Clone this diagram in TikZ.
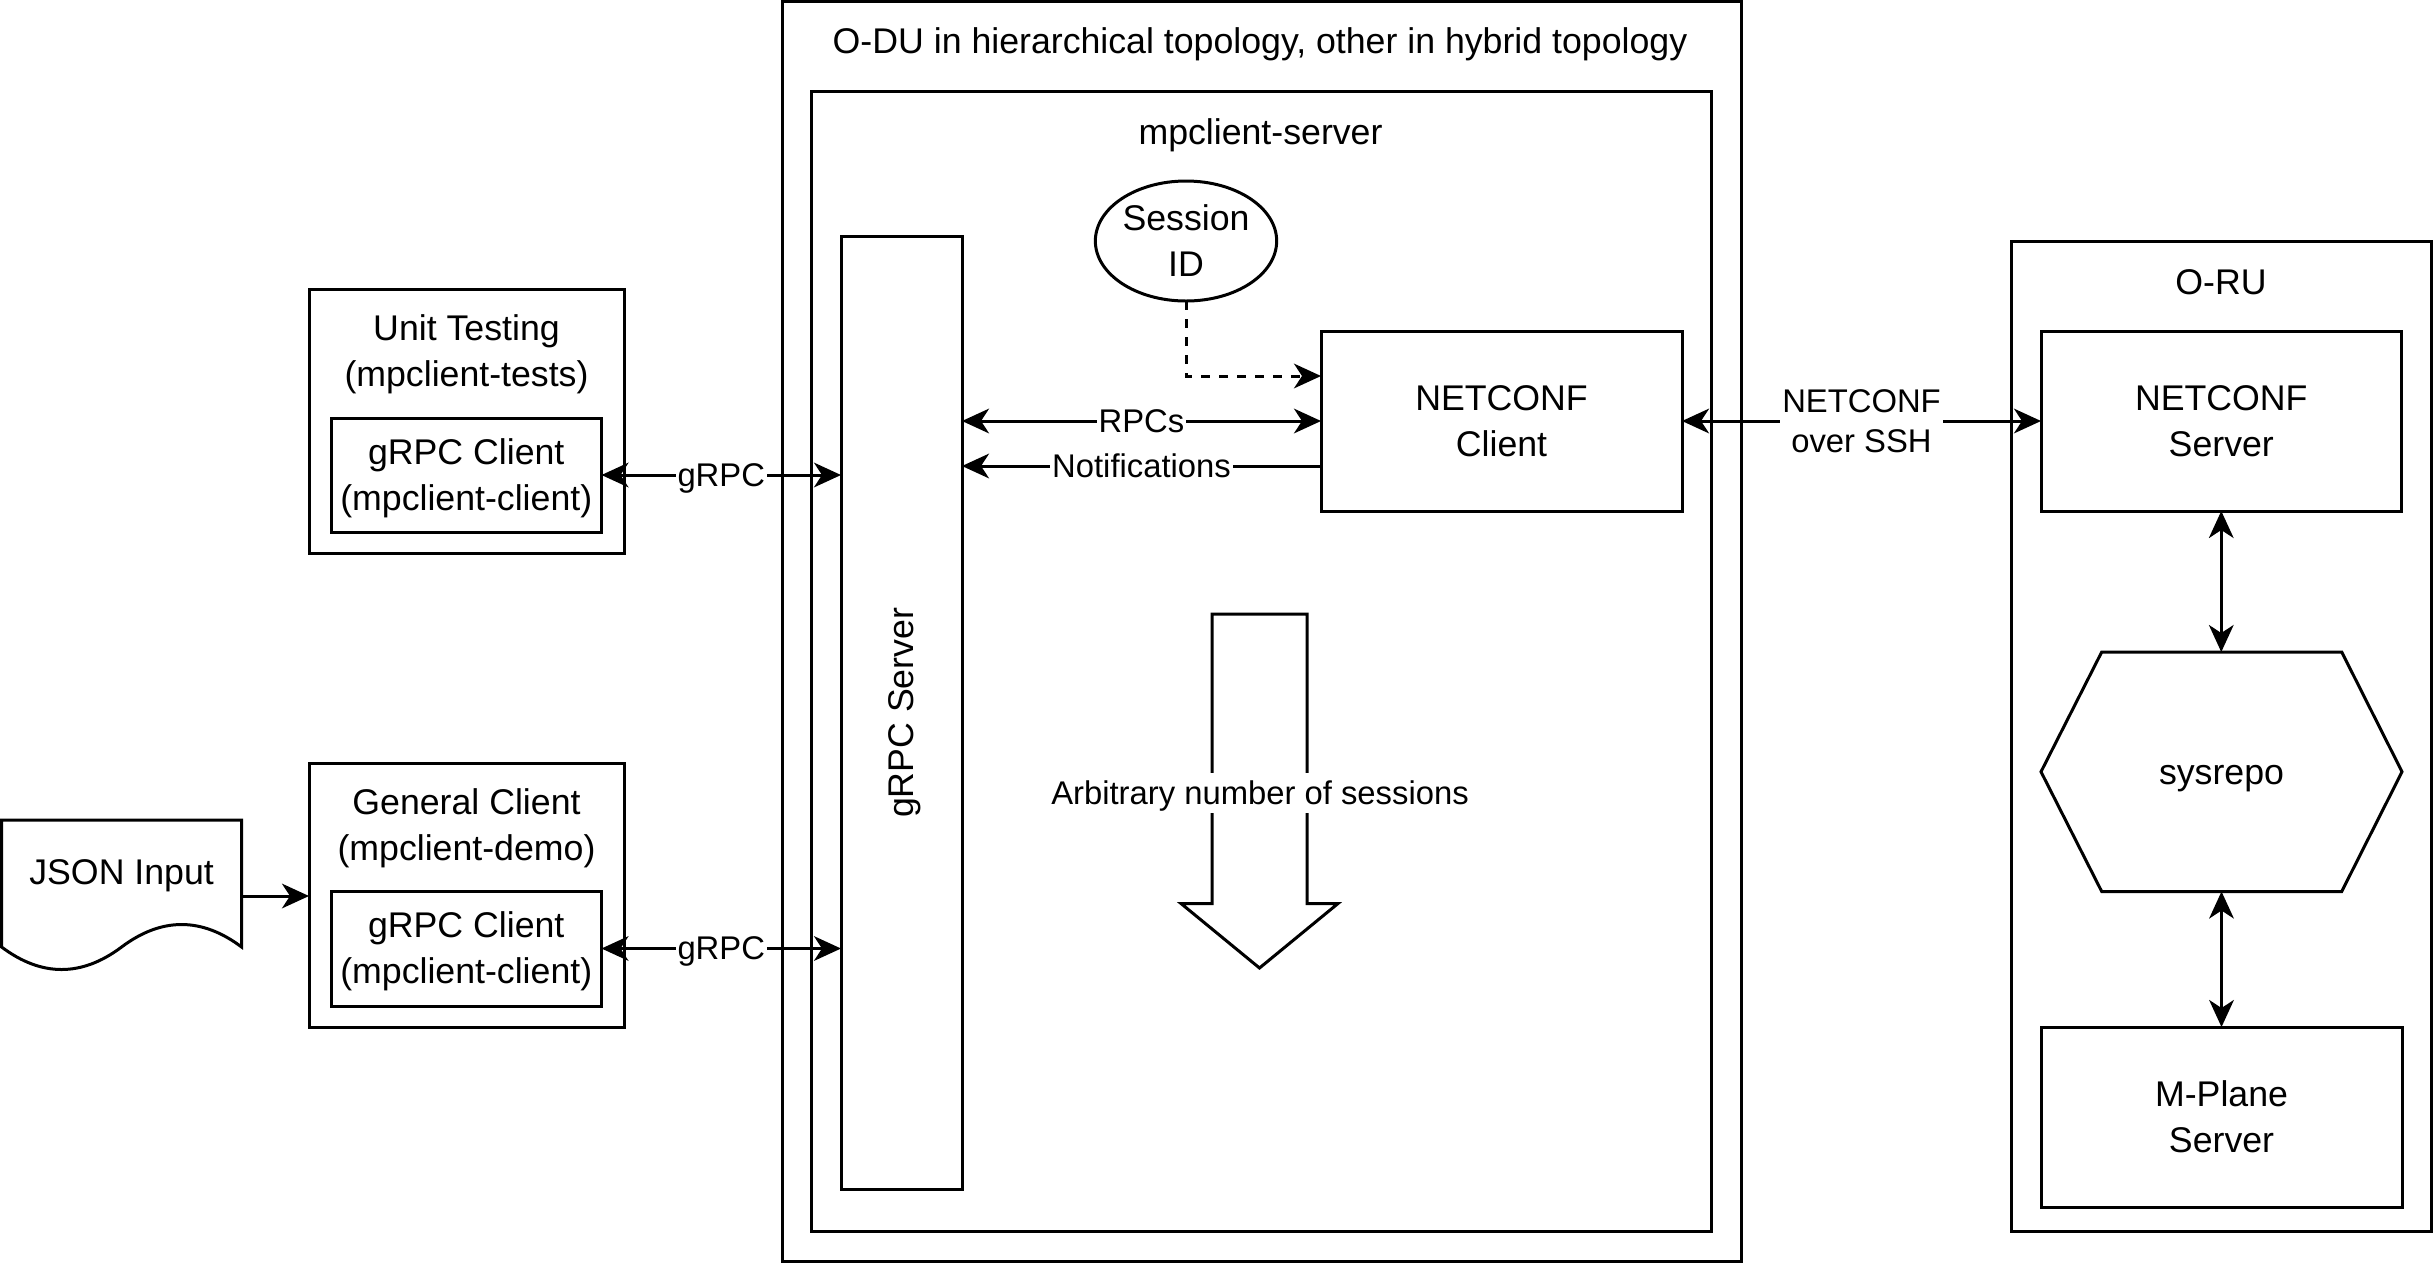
\documentclass[tikz,border=0pt]{standalone}
\usepackage{fontspec}
\setmainfont{Liberation Sans}
\usetikzlibrary{arrows.meta,fit,shapes.geometric}
\newcommand\vf{\fontsize{10.71pt}{12.85pt}\selectfont}
\newcommand\ef{\fontsize{9.84pt}{11.81pt}\selectfont}
\newcommand\ds{\vrule width0pt height0.9465em depth0.2535em\relax}
\begin{document}
\begin{tikzpicture}[x=0.3pt,y=-0.3pt,
  box/.style={draw=black,line width=0.9pt,inner sep=0pt,outer sep=0pt},
  txt/.style={inner sep=0pt,outer sep=0pt,align=center,font=\vf},
  elab/.style={inner xsep=0.6pt,inner ysep=0pt,fill=white,align=center,font=\ef},
  tip/.tip={Stealth[length=8.1pt,width=7.4pt,inset=2.4pt]},
  conn/.style={line width=0.9pt,-tip},
  biconn/.style={line width=0.9pt,tip-tip},
  shp/.style={line width=0.9pt,line join=miter},
]
\useasboundingbox (0,0) rectangle (2433,1263);

% O-DU container
\node[box, fit={(782,1.5) (1741,1261)}] (odu) {};
\node[txt] (odut) at (1260,41.5) {\ds O-DU in hierarchical topology, other in hybrid topology};
\node[box, fit={(811.5,91.5) (1711,1231.5)}] (mps) {};
\node[txt] (mpst) at (1260.5,132.5) {\ds mpclient-server};
\node[box, fit={(841,236.5) (962,1189)}] (gs) {};
\node[txt, rotate=90] (gst) at (gs.center) {\ds gRPC Server};
\node[box, ellipse, minimum width=54.4pt, minimum height=36pt] (sid) at (1186,241) {};
\node[txt] (sidt) at (sid.center) {\ds Session\\\ds ID};
\node[box, fit={(1321,331) (1682,511)}] (nc) {};
\node[txt] (nct) at (nc.center) {\ds NETCONF\\\ds Client};

% big arrow
\draw[shp] (1212,614) -- (1307,614) -- (1307,903.5) -- (1338,903.5) -- (1259.5,968)
  -- (1181,903.5) -- (1212,903.5) -- cycle;
\node[elab] (arb) at (1260,793) {\ds Arbitrary number of sessions};

% left side
\node[box, fit={(309,289) (624,553)}] (ut) {};
\node[txt] (utt) at (466.5,351.5) {\ds Unit Testing\\\ds (mpclient-tests)};
\node[box, fit={(331,418) (601.5,532)}] (c1) {};
\node[txt] (c1t) at (c1.center) {\ds gRPC Client\\\ds (mpclient-client)};
\node[box, fit={(309,763) (624,1027)}] (gc) {};
\node[txt] (gct) at (466.5,825.5) {\ds General Client\\\ds (mpclient-demo)};
\node[box, fit={(331,891) (601.5,1006)}] (c2) {};
\node[txt] (c2t) at (c2.center) {\ds gRPC Client\\\ds (mpclient-client)};

\node[inner sep=0pt, outer sep=0pt, fit={(1.6,820) (241.6,972)}] (json) {};
\draw[shp] (json.north west) -- (json.north east) -- (241.6,947)
  .. controls (201.6,917) and (161.6,917) .. (121.6,947)
  .. controls (81.6,977) and (41.6,977) .. (1.6,947) -- cycle;
\node[txt] (jsont) at (121.6,872) {\ds JSON Input};

% right side
\node[box, fit={(2011,241) (2431,1231)}] (oru) {};
\node[txt] (orut) at (2221,282) {\ds O-RU};
\node[box, fit={(2041,331) (2401.5,511)}] (ns) {};
\node[txt] (nst) at (ns.center) {\ds NETCONF\\\ds Server};
\node[inner sep=0pt, outer sep=0pt, fit={(2041,652) (2402,891.5)}] (sys) {};
\draw[shp] (2041,771.75) -- (2101.7,652) -- (2341.7,652) -- (2402,771.75)
  -- (2341.7,891.5) -- (2101.7,891.5) -- cycle;
\node[txt] (syst) at (sys.center) {\ds sysrepo};
\node[box, fit={(2041,1027) (2402,1207)}] (mp) {};
\node[txt] (mpt) at (mp.center) {\ds M-Plane\\\ds Server};

% connectors
\draw[conn] (json.east) -- (json.east -| gc.west);
\draw[biconn] (c1.east) -- (c1.east -| gs.west) node[elab, midway] (g1) {\ds gRPC};
\draw[biconn] (c2.east) -- (c2.east -| gs.west) node[elab, midway] (g2) {\ds gRPC};

\coordinate (dsh) at ([yshift=13.5pt]nc.west);
\coordinate (ntf) at ([yshift=-13.5pt]nc.west);
\draw[conn, dash pattern=on 2.7pt off 2.7pt] (sid.south) |- (dsh);
\draw[biconn] (nc.west -| gs.east) -- (nc.west) node[elab, midway] (rpc) {\ds RPCs};
\draw[conn] (ntf) -- (ntf -| gs.east) node[elab, midway] (ntfl) {\ds Notifications};

\draw[biconn] (nc.east) -- (ns.west) node[elab, midway] (ssh) {\ds NETCONF\\\ds over SSH};
\draw[biconn] (ns.south) -- (ns.south |- sys.north);
\draw[biconn] (sys.south) -- (sys.south |- mp.north);
\end{tikzpicture}
\end{document}
